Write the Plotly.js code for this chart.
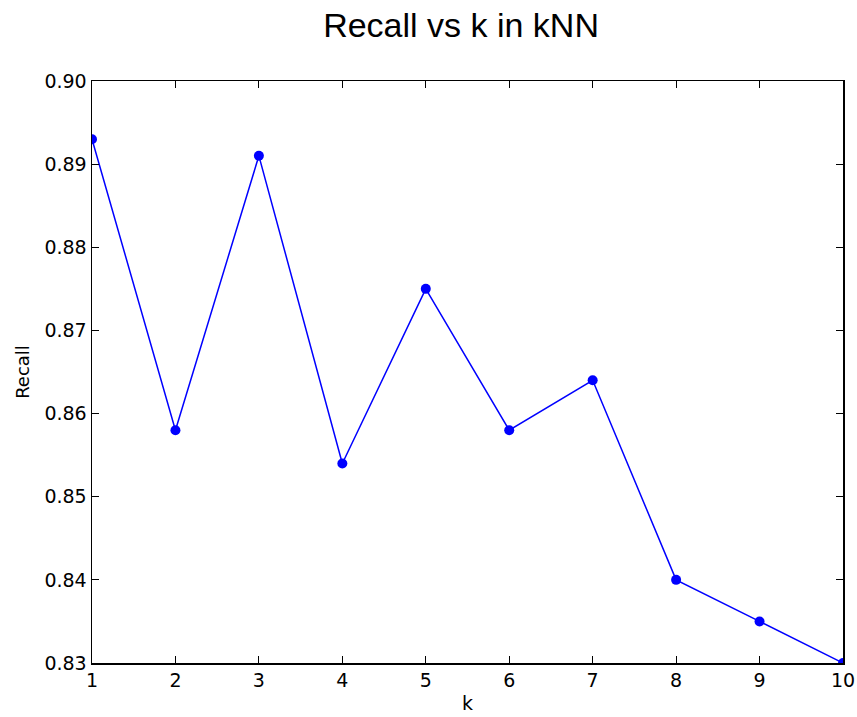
<!DOCTYPE html>
<html>
<head>
<meta charset="utf-8">
<script src="https://cdn.plot.ly/plotly-3.0.1.min.js"></script>
<style>
  html, body { margin: 0; padding: 0; background: #ffffff; }
  #chart { width: 857px; height: 717px; }
</style>
</head>
<body>
<div id="chart"></div>
<script>
// Recall of a kNN classifier for each neighbour count k
const kValues = [1, 2, 3, 4, 5, 6, 7, 8, 9, 10];
const recall = [0.893, 0.858, 0.891, 0.854, 0.875, 0.858, 0.864, 0.840, 0.835, 0.830];

const xTicks = [1, 2, 3, 4, 5, 6, 7, 8, 9, 10];
const yTicks = [0.83, 0.84, 0.85, 0.86, 0.87, 0.88, 0.89, 0.90];
const yTickLabels = ["0.83", "0.84", "0.85", "0.86", "0.87", "0.88", "0.89", "0.90"];

const tickFont = { family: "DejaVu Sans", size: 19, color: "#000000" };

const trace = {
  x: kValues,
  y: recall,
  type: "scatter",
  mode: "lines+markers",
  line: { color: "#0000ff", width: 1.5 },
  marker: { color: "#0000ff", size: 10 },
  cliponaxis: true,
  hoverinfo: "x+y"
};

const axisCommon = {
  showline: true,
  linecolor: "#000000",
  linewidth: 1.5,
  mirror: "ticks",
  ticks: "inside",
  ticklen: 7,
  tickwidth: 1,
  tickcolor: "#000000",
  showgrid: false,
  zeroline: false,
  automargin: false,
  tickfont: tickFont
};

const layout = {
  width: 857,
  height: 717,
  paper_bgcolor: "#ffffff",
  plot_bgcolor: "#ffffff",
  margin: { l: 92, r: 14, t: 81, b: 54 },
  showlegend: false,
  title: {
    text: "Recall vs k in kNN",
    font: { family: "Liberation Sans, Arial, sans-serif", size: 34, color: "#000000" },
    x: 0.538,
    xanchor: "center",
    y: 0.965,
    yanchor: "middle"
  },
  xaxis: Object.assign({}, axisCommon, {
    range: [1, 10],
    tickmode: "array",
    tickvals: xTicks,
    ticktext: xTicks.map(String),
    title: { text: "k", font: { family: "DejaVu Sans", size: 19, color: "#000000" }, standoff: 6 }
  }),
  yaxis: Object.assign({}, axisCommon, {
    range: [0.83, 0.90],
    tickmode: "array",
    tickvals: yTicks,
    ticktext: yTickLabels,
    title: { text: "Recall", font: { family: "DejaVu Sans", size: 18, color: "#000000" }, standoff: 10 }
  })
};

Plotly.newPlot("chart", [trace], layout, { displayModeBar: false, staticPlot: true });
</script>
</body>
</html>
